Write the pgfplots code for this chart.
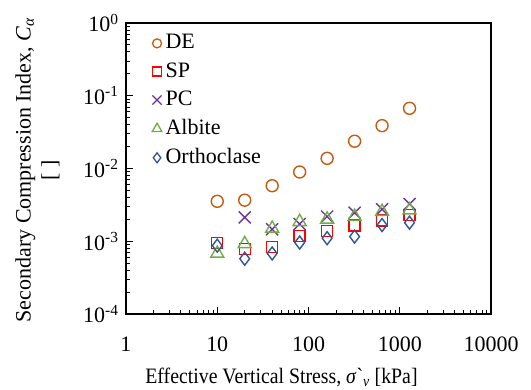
\documentclass[border=0pt]{standalone}
\usepackage{fontspec}
\setmainfont{Liberation Serif}
\usepackage{pgfplots}
\pgfplotsset{compat=1.18}
\definecolor{cde}{RGB}{197,90,17}
\definecolor{csp}{RGB}{255,0,0}
\definecolor{cpc}{RGB}{112,48,160}
\definecolor{cab}{RGB}{112,173,71}
\definecolor{cor}{RGB}{47,85,151}
\newcommand{\fs}{\fontsize{22}{25}\selectfont}
\begin{document}
\fs
\begin{tikzpicture}
\begin{axis}[
  xmode=log, ymode=log,
  scale only axis, width=365pt, height=291pt,
  xmin=1, xmax=10000, ymin=1e-4, ymax=1,
  axis line style={line width=2.2pt},
  tick style={black, line width=0.9pt},
  tick align=inside,
  xtick pos=bottom, ytick pos=left,
  major tick length=7pt, minor tick length=4.5pt,
  xtick={1,10,100,1000,10000},
  xticklabels={1,10,100,1000,10000},
  ytick={1e-4,1e-3,1e-2,1e-1,1},
  yticklabels={10\textsuperscript{-4},10\textsuperscript{-3},10\textsuperscript{-2},10\textsuperscript{-1},10\textsuperscript{0}},
  tick label style={font=\fs},
  xticklabel style={anchor=base, yshift=-38pt},
  xlabel={\scalebox{0.9}[1]{Effective Vertical Stress, \textit{σ}\textasciigrave\textsubscript{\textit{v}} [kPa]}},
  xlabel style={font=\fs, at={(axis description cs:0.426,0)}, anchor=base, yshift=-69pt},
  ylabel={Secondary Compression Index, \textit{C}\textsubscript{\textit{α}}\\[1pt] [ ]},
  ylabel style={align=center, font=\fs, at={(axis description cs:-0.2425,0.495)}, anchor=center},
  legend style={draw=none, fill=none, at={(axis description cs:0.0715,0.968)}, anchor=north west,
    font=\fs, row sep=6.5pt, inner xsep=0pt, inner ysep=0pt},
  legend cell align=left,
  every axis plot/.append style={only marks, line width=1.4pt, mark size=6pt,
    legend image code/.code={\draw[##1, line width=1.3pt] plot coordinates {(0pt,0pt)}; \path[draw=none] (-4.5pt,0pt) (6.5pt,0pt);}},
]
\addplot[cde, mark=o, legend image post style={mark size=4.5pt}] coordinates {(10,0.00354)(20,0.00367)(40,0.0058)(80,0.00895)(160,0.0138)(320,0.0237)(640,0.0388)(1280,0.0672)};
\addlegendentry{DE}
\addplot[csp, mark=square, mark size=5.5pt, legend image post style={mark size=4.5pt}] coordinates {(10,0.00094)(20,0.00078)(40,0.00083)(80,0.00119)(160,0.00138)(320,0.00164)(640,0.00192)(1280,0.0023)};
\addlegendentry{SP}
\addplot[cpc, mark=x, mark size=8.5pt, legend image post style={mark size=6.5pt}] coordinates {(20,0.00213)(40,0.00146)(80,0.00173)(160,0.00218)(320,0.00247)(640,0.00275)(1280,0.00325)};
\addlegendentry{PC}
\addplot[cab, mark=triangle, mark size=7.5pt, legend image post style={mark size=5.5pt}] coordinates {(10,0.00068)(20,0.00092)(40,0.00150)(80,0.00185)(160,0.00200)(320,0.00218)(640,0.00255)(1280,0.00268)};
\addlegendentry{Albite}
\addplot[cor, mark=diamond, mark size=6.5pt, legend image post style={mark size=5pt}] coordinates {(10,0.00087)(20,0.000575)(40,0.00068)(80,0.00096)(160,0.0011)(320,0.00116)(640,0.00167)(1280,0.0018)};
\addlegendentry{Orthoclase}
\end{axis}
\pgfresetboundingbox
\path (current axis.south west) ++(-126pt,-76pt) rectangle ++(531pt,390pt);
\end{tikzpicture}
\end{document}
